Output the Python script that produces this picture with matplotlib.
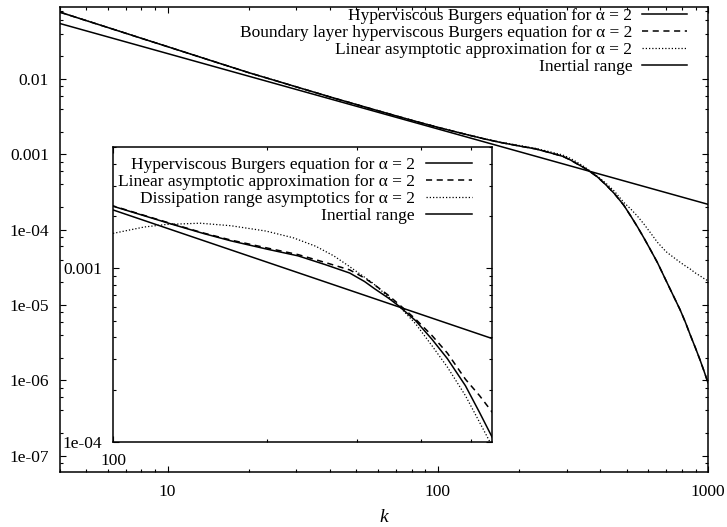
"""Hyperviscous Burgers spectrum with dissipation range inset (gnuplot look)."""

import matplotlib
matplotlib.use('Agg')
import matplotlib.pyplot as plt
from matplotlib.ticker import FixedLocator, FixedFormatter, LogLocator, NullFormatter

plt.rcParams.update({
    'font.family': ['Liberation Serif', 'DejaVu Serif'],
    'font.size': 12.5,
    'axes.linewidth': 1.1,
    'xtick.direction': 'in', 'ytick.direction': 'in',
    'xtick.top': True, 'ytick.right': True,
    'xtick.major.size': 4.5, 'ytick.major.size': 4.5,
    'xtick.minor.size': 2.3, 'ytick.minor.size': 2.3,
    'xtick.major.width': 0.8, 'ytick.major.width': 0.8,
    'xtick.minor.width': 0.8, 'ytick.minor.width': 0.8,
})

# wavenumbers and spectra
k = [4, 5, 6, 8, 10, 14, 20, 30, 40, 60, 80, 100, 115, 130, 150, 170, 200,
     230, 260, 290, 310, 325, 345, 362, 390, 420, 450, 488, 520, 550, 580,
     611, 650, 700, 745, 788, 825, 860, 900, 933, 966, 1000]
E_burgers = [0.0768, 0.0594, 0.0482, 0.0346, 0.0268, 0.0182, 0.0121, 0.00784,
             0.00576, 0.00379, 0.00283, 0.00228, 0.00201, 0.00180, 0.00159,
             0.00144, 0.00129, 0.00118, 0.00105, 9.4e-4, 8.4e-4, 7.6e-4,
             6.75e-4, 6.06e-4, 5.0e-4, 3.9e-4, 3.02e-4, 2.11e-4, 1.48e-4,
             1.07e-4, 7.7e-5, 5.5e-5, 3.66e-5, 2.1e-5, 1.32e-5, 8.7e-6,
             5.9e-6, 4.0e-6, 2.66e-6, 1.9e-6, 1.34e-6, 9.3e-7]
E_boundary = [0.0768, 0.0594, 0.0482, 0.0346, 0.0268, 0.0182, 0.0121, 0.00784,
              0.00576, 0.00379, 0.00283, 0.00228, 0.00201, 0.00180, 0.00159,
              0.00144, 0.00129, 0.00118, 0.00105, 9.4e-4, 8.4e-4, 7.6e-4,
              6.75e-4, 6.06e-4, 5.0e-4, 3.9e-4, 3.02e-4, 2.11e-4, 1.48e-4,
              1.07e-4, 7.7e-5, 5.5e-5, 3.66e-5, 2.1e-5, 1.32e-5, 8.7e-6,
              5.9e-6, 4.0e-6, 2.66e-6, 1.9e-6, 1.34e-6, 9.3e-7]
E_linear = [0.0768, 0.0594, 0.0482, 0.0346, 0.0268, 0.0182, 0.0121, 0.00784,
            0.00576, 0.00379, 0.00283, 0.00229, 0.00202, 0.00181, 0.00160,
            0.001455, 0.00131, 0.00120, 0.00108, 9.8e-4, 8.8e-4, 8.0e-4,
            7.0e-4, 6.2e-4, 5.1e-4, 4.1e-4, 3.25e-4, 2.3e-4, 1.85e-4,
            1.49e-4, 1.18e-4, 9.2e-5, 6.8e-5, 5.1e-5, 4.3e-5, 3.7e-5,
            3.3e-5, 3.0e-5, 2.65e-5, 2.45e-5, 2.25e-5, 2.1e-5]

# dissipation range asymptotics (inset only)
k_diss = [100, 115, 127, 148, 170, 199, 225, 249, 270, 289, 321, 362, 390,
          420, 450, 488, 520, 550]
E_diss = [1.59e-3, 1.73e-3, 1.79e-3, 1.82e-3, 1.76e-3, 1.64e-3, 1.50e-3,
          1.34e-3, 1.18e-3, 1.03e-3, 8.27e-4, 6.06e-4, 4.8e-4, 3.58e-4,
          2.7e-4, 1.85e-4, 1.3e-4, 9.5e-5]

# inertial range k^-1 line
k_inertial = [4, 1000]
E_inertial = [0.0543, 2.17e-4]

main_labels = ['Hyperviscous Burgers equation for \u03b1 = 2',
               'Boundary layer hyperviscous Burgers equation for \u03b1 = 2',
               'Linear asymptotic approximation for \u03b1 = 2',
               'Inertial range']
inset_labels = ['Hyperviscous Burgers equation for \u03b1 = 2',
                'Linear asymptotic approximation for \u03b1 = 2',
                'Dissipation range asymptotics for \u03b1 = 2',
                'Inertial range']

y_major = [1e-2, 1e-3, 1e-4, 1e-5, 1e-6, 1e-7]
y_major_labels = ['0.01', '0.001', '1e-04', '1e-05', '1e-06', '1e-07']
x_major = [10, 100, 1000]
x_major_labels = ['10', '100', '1000']
yi_major = [1e-3, 1e-4]
yi_major_labels = ['0.001', '1e-04']
xi_major = [100]
xi_major_labels = ['100']

lw = 1.1
dash = (0, (4, 3))
dot = (0, (1, 1.6))

fig = plt.figure(figsize=(7.27, 5.27), dpi=100)
ax = fig.add_axes([60 / 727, 55 / 527, 648 / 727, 465 / 527])

ax.plot(k, E_burgers, color='black', lw=lw, label=main_labels[0])
ax.plot(k, E_boundary, color='black', lw=lw, linestyle=dash, label=main_labels[1])
ax.plot(k, E_linear, color='black', lw=0.9, linestyle=dot, label=main_labels[2])
ax.plot(k_inertial, E_inertial, color='black', lw=lw, label=main_labels[3])

ax.set_xscale('log')
ax.set_yscale('log')
ax.set_xlim(4, 1000)
ax.set_ylim(6.1e-8, 0.09)
ax.xaxis.set_major_locator(FixedLocator(x_major))
ax.xaxis.set_major_formatter(FixedFormatter(x_major_labels))
ax.xaxis.set_minor_locator(LogLocator(subs=range(2, 10), numticks=20))
ax.xaxis.set_minor_formatter(NullFormatter())
ax.yaxis.set_major_locator(FixedLocator(y_major))
ax.yaxis.set_major_formatter(FixedFormatter(y_major_labels))
# gnuplot thins the minor tics on the short decades of the main y axis
ax.yaxis.set_minor_locator(LogLocator(subs=(2, 4, 6, 8), numticks=20))
ax.yaxis.set_minor_formatter(NullFormatter())
ax.tick_params(axis='y', which='major', pad=8)
ax.tick_params(axis='x', which='major', pad=9)
ax.set_xlabel('k', style='italic', fontsize=14, labelpad=6)

ax.legend(loc='upper right', frameon=False, markerfirst=False,
          handlelength=2.6, handletextpad=0.55, labelspacing=0.04,
          borderpad=0, borderaxespad=0, bbox_to_anchor=(0.9676, 0.998))

# inset
axi = fig.add_axes([113 / 727, 85 / 527, 379 / 727, 295 / 527])
axi.plot(k, E_burgers, color='black', lw=lw, label=inset_labels[0])
axi.plot(k, E_linear, color='black', lw=lw, linestyle=dash, label=inset_labels[1])
axi.plot(k_diss, E_diss, color='black', lw=0.9, linestyle=dot, label=inset_labels[2])
axi.plot(k_inertial, E_inertial, color='black', lw=lw, label=inset_labels[3])

axi.set_xscale('log')
axi.set_yscale('log')
axi.set_xlim(100, 550)
axi.set_ylim(1e-4, 5e-3)
axi.xaxis.set_major_locator(FixedLocator(xi_major))
axi.xaxis.set_major_formatter(FixedFormatter(xi_major_labels))
axi.xaxis.set_minor_locator(LogLocator(subs=range(2, 10), numticks=20))
axi.xaxis.set_minor_formatter(NullFormatter())
axi.yaxis.set_major_locator(FixedLocator(yi_major))
axi.yaxis.set_major_formatter(FixedFormatter(yi_major_labels))
axi.yaxis.set_minor_locator(LogLocator(subs=range(2, 10), numticks=20))
axi.yaxis.set_minor_formatter(NullFormatter())
axi.tick_params(axis='y', which='major', pad=8)
axi.tick_params(axis='x', which='major', pad=8)

axi.legend(loc='upper right', frameon=False, markerfirst=False,
           handlelength=2.65, handletextpad=0.65, labelspacing=0.05,
           borderpad=0, borderaxespad=0, bbox_to_anchor=(0.947, 0.968))

fig.savefig('out.png', dpi=100)
plt.close(fig)
print("[OK] out.png")
